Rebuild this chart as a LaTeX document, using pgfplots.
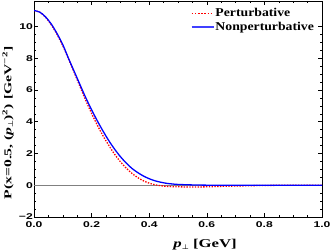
\documentclass[border=0pt]{standalone}
\usepackage{amsmath}
\usepackage{pgfplots}
\pgfplotsset{compat=1.18}
\usepackage{fontspec}
\setmainfont{Liberation Serif}
\newfontfamily\tickfont{Liberation Sans}[FakeStretch=1.45]
\newfontfamily\ylabfont{Liberation Serif}[FakeStretch=1.5]
\newfontfamily\xlabfont{Liberation Serif}[FakeStretch=1.4]
\newfontfamily\legfont{Liberation Serif}[FakeStretch=1.15]
\newcommand{\lf}{\legfont\bfseries\fontsize{12}{13}\selectfont}
\pgfplotstableread{
p v
0.00 11.0
0.02 10.9
0.04 10.6
0.06 10.15
0.08 9.55
0.10 8.85
0.12 7.98
0.14 7.15
0.16 6.32
0.18 5.5
0.20 4.75
0.22 4.05
0.24 3.4
0.26 2.8
0.28 2.27
0.30 1.8
0.32 1.4
0.34 1.06
0.36 0.8
0.38 0.58
0.40 0.41
0.42 0.28
0.44 0.19
0.46 0.12
0.48 0.08
0.50 0.05
0.55 0.02
0.60 0.005
0.70 0.0
0.80 0.0
0.90 0.0
1.00 0.0
}\nonpert
\pgfplotstableread{
p v
0.00 11.0
0.02 10.9
0.04 10.58
0.06 10.1
0.08 9.5
0.10 8.78
0.12 7.95
0.14 7.08
0.16 6.2
0.18 5.33
0.20 4.52
0.22 3.78
0.24 3.1
0.26 2.5
0.28 1.95
0.30 1.48
0.32 1.08
0.34 0.75
0.36 0.48
0.38 0.28
0.40 0.13
0.42 0.03
0.44 -0.03
0.46 -0.07
0.48 -0.09
0.50 -0.10
0.55 -0.11
0.60 -0.10
0.65 -0.07
0.70 -0.05
0.75 -0.03
0.80 -0.015
0.85 -0.005
0.90 0.0
1.00 0.0
}\pert
\begin{document}
\begin{tikzpicture}
\begin{axis}[
  name=ax,
  scale only axis,
  width=288bp, height=216bp,
  xmin=0, xmax=1, ymin=-2, ymax=11.6,
  xtick={0,0.2,0.4,0.6,0.8,1.0},
  xticklabels={0.0,0.2,0.4,0.6,0.8,1.0},
  ytick={-2,0,2,4,6,8,10},
  yticklabels={−2,0,2,4,6,8,10},
  minor x tick num=3, minor y tick num=3,
  tick align=inside,
  major tick length=4bp, minor tick length=2bp,
  axis line style={line width=0.6pt},
  every tick/.style={black, line width=0.5pt},
  tick label style={font=\tickfont\bfseries\fontsize{8.4}{9}\selectfont},
  xticklabel style={inner sep=0pt, yshift=-4.5bp},
  yticklabel style={inner sep=0pt, xshift=-1bp},
  every axis y label/.style={at={(rel axis cs:0,0.435)}, xshift=-26bp, rotate=90, anchor=center},
  every axis x label/.style={at={(rel axis cs:0.594,0)}, yshift=-28bp, anchor=center},
  ylabel={\ylabfont\bfseries\fontsize{10.5}{12}\selectfont P(x=0.5, (\textit{p}\raisebox{-0.35ex}{\scriptsize$\boldsymbol{\perp}$})\textsuperscript{2}) [GeV\textsuperscript{−2}]},
  xlabel={\xlabfont\bfseries\fontsize{12}{13}\selectfont \textit{p}\raisebox{-0.35ex}{\scriptsize$\boldsymbol{\perp}$} [GeV]},
  legend style={draw=none, fill=none, at={(rel axis cs:0.977,0.972)}, anchor=north east,
    inner sep=0pt, row sep=1.5bp,
    nodes={inner sep=1.2bp}},
  legend cell align=left,
]
\addplot[gray, line width=0.4pt, forget plot] coordinates {(0,0) (1,0)};
\addplot[red, line width=1.3pt, dash pattern=on 1.4pt off 1.4pt, smooth,
  legend image code/.code={\draw[color=red, line width=1.3pt, dash pattern=on 1.6pt off 1.6pt] (0bp,0bp) -- (22bp,0bp);}]
  table[x=p, y=v] {\pert};
\addlegendentry{\lf Perturbative}
\addplot[blue, line width=1.3pt, smooth,
  legend image code/.code={\draw[color=blue!75, line width=1.2pt] (0bp,0bp) -- (22bp,0bp);}]
  table[x=p, y=v] {\nonpert};
\addlegendentry{\lf Nonperturbative}
\end{axis}
\pgfresetboundingbox
\path ([shift={(-34bp,-35bp)}]ax.south west) rectangle ([shift={(8bp,1bp)}]ax.north east);
\end{tikzpicture}
\end{document}
